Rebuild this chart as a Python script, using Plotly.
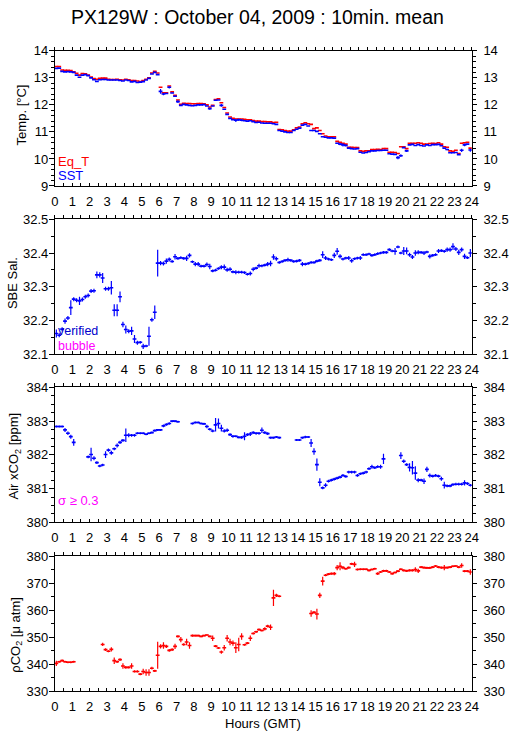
import plotly.graph_objects as go

# 10-minute bins over one day (hours GMT)
N_BINS = 144
HOUR_TICKS = list(range(0, 25))

EQ_T = [
    13.42, 13.42, 13.29, 13.28, 13.28, 13.27,
    13.22, 13.17, 13.10, 13.16, 13.15, 13.10,
    13.03, 12.97, 12.95, 12.98, 12.99, 12.99,
    12.95, 12.94, 12.94, 12.95, 12.93, 12.92,
    12.95, 12.93, 12.90, 12.90, 12.88, 12.86,
    12.90, 12.95, 13.00, 13.18, 13.24, 13.18,
    12.65, 12.45, 12.45, 12.70, 12.48, 12.35,
    12.18, 12.02, 12.06, 12.05, 12.05, 12.04,
    12.04, 12.05, 12.05, 12.04, 12.00, 11.92,
    11.98, 12.20, 12.22, 12.08, 11.90, 11.70,
    11.55, 11.50, 11.48, 11.48, 11.48, 11.47,
    11.45, 11.45, 11.42, 11.40, 11.40, 11.38,
    11.38, 11.37, 11.37, 11.35, 11.36, 11.09,
    11.08, 11.05, 11.03, 11.03, 11.08, 11.15,
    11.18, 11.30, 11.34, 11.30, 11.28, 11.12,
    11.15, 11.05, 10.93, 10.85, 10.82, 10.82,
    10.82, 10.65, 10.62, 10.58, 10.55, 10.43,
    10.43, 10.42, 10.42, 10.30, 10.28, 10.30,
    10.30, 10.35, 10.35, 10.36, 10.35, 10.38,
    10.38, 10.25, 10.25, 10.24, 10.20, 10.45,
    10.45, 10.38, 10.58, 10.58, 10.58, 10.60,
    10.58, 10.55, 10.55, 10.57, 10.58, 10.57,
    10.60, 10.55, 10.45, 10.43, 10.30, 10.28,
    10.32, 10.20, 10.58, 10.60, 10.62, 10.40,
]

SST = [
    13.35, 13.36, 13.24, 13.22, 13.23, 13.22,
    13.20, 13.10, 13.02, 13.10, 13.12, 13.08,
    13.00, 12.93, 12.87, 12.93, 12.94, 12.94,
    12.92, 12.92, 12.92, 12.92, 12.90, 12.88,
    12.92, 12.90, 12.85, 12.87, 12.83, 12.84,
    12.86, 12.92, 12.98, 13.14, 13.20, 13.12,
    12.50, 12.40, 12.42, 12.65, 12.44, 12.32,
    12.12, 11.98, 12.02, 12.00, 11.98, 11.97,
    11.98, 12.00, 12.00, 12.01, 11.96, 11.86,
    11.96, 12.17, 12.18, 11.98, 11.84, 11.65,
    11.50, 11.45, 11.43, 11.45, 11.43, 11.41,
    11.40, 11.41, 11.38, 11.35, 11.36, 11.33,
    11.32, 11.32, 11.32, 11.30, 11.28, 11.05,
    11.03, 11.00, 10.98, 10.98, 11.05, 11.10,
    11.14, 11.25, 11.28, 11.22, 11.05, 11.05,
    11.02, 10.93, 10.82, 10.80, 10.78, 10.78,
    10.77, 10.58, 10.55, 10.52, 10.50, 10.40,
    10.38, 10.37, 10.38, 10.25, 10.22, 10.24,
    10.27, 10.30, 10.30, 10.31, 10.31, 10.32,
    10.32, 10.19, 10.18, 10.17, 10.05, 10.12,
    10.42, 10.30, 10.52, 10.54, 10.50, 10.53,
    10.50, 10.48, 10.52, 10.50, 10.53, 10.53,
    10.54, 10.49, 10.40, 10.35, 10.23, 10.23,
    10.24, 10.16, 10.32, 10.52, 10.55, 10.33,
]

# std dev of SST where a visible bar is drawn (bin index -> sigma)
SST_SIGMA = {36: 0.09, 37: 0.04, 39: 0.04, 41: 0.03, 42: 0.05, 53: 0.04,
             57: 0.05, 62: 0.06, 63: 0.05, 64: 0.04, 98: 0.04, 99: 0.06,
             100: 0.04, 118: 0.06, 119: 0.05, 121: 0.04, 135: 0.03,
             140: 0.06, 141: 0.05, 143: 0.06}

SAL = [
    32.161, 32.156, 32.174, 32.198, 32.207, 32.238,
    32.263, 32.260, 32.258, 32.262, 32.270, 32.274,
    32.287, 32.288, 32.335, 32.335, 32.326, 32.294,
    32.294, 32.297, 32.230, 32.230, 32.270, 32.188,
    32.173, 32.168, 32.169, 32.145, 32.134, 32.135,
    32.123, 32.124, 32.153, 32.202, 32.224, 32.370,
    32.370, 32.369, 32.376, 32.381, 32.375, 32.389,
    32.384, 32.386, 32.384, 32.384, 32.393, 32.374,
    32.367, 32.367, 32.361, 32.361, 32.366, 32.360,
    32.347, 32.349, 32.354, 32.358, 32.358, 32.350,
    32.352, 32.344, 32.343, 32.343, 32.343, 32.342,
    32.337, 32.339, 32.352, 32.355, 32.362, 32.362,
    32.364, 32.367, 32.369, 32.388, 32.383, 32.372,
    32.375, 32.378, 32.380, 32.378, 32.375, 32.376,
    32.378, 32.367, 32.367, 32.369, 32.372, 32.372,
    32.376, 32.378, 32.395, 32.385, 32.382, 32.380,
    32.393, 32.405, 32.390, 32.382, 32.385, 32.385,
    32.377, 32.383, 32.385, 32.385, 32.395, 32.395,
    32.397, 32.393, 32.395, 32.398, 32.400, 32.402,
    32.402, 32.410, 32.406, 32.405, 32.418, 32.400,
    32.406, 32.406, 32.395, 32.388, 32.400, 32.402,
    32.402, 32.400, 32.403, 32.390, 32.393, 32.395,
    32.406, 32.407, 32.405, 32.410, 32.410, 32.419,
    32.412, 32.402, 32.410, 32.390, 32.386, 32.400,
]

SAL_SIGMA = [
    .012, .006, .006, .008, .006, .022,
    .006, .006, .012, .006, .006, .006,
    .006, .006, .010, .008, .015, .006,
    .006, .020, .018, .018, .016, .008,
    .012, .006, .012, .012, .006, .004,
    .008, .004, .028, .006, .020, .040,
    .006, .006, .008, .006, .004, .008,
    .004, .004, .004, .008, .006, .004,
    .006, .006, .004, .004, .006, .008,
    .004, .004, .004, .006, .008, .006,
    .006, .004, .006, .004, .004, .004,
    .004, .006, .006, .004, .006, .004,
    .004, .006, .008, .008, .006, .004,
    .004, .004, .006, .004, .004, .004,
    .004, .006, .004, .004, .004, .004,
    .004, .004, .010, .006, .004, .004,
    .008, .010, .006, .004, .004, .006,
    .006, .004, .004, .006, .004, .004,
    .004, .004, .004, .004, .004, .004,
    .004, .004, .004, .010, .004, .004,
    .012, .010, .006, .006, .008, .006,
    .004, .006, .004, .006, .004, .004,
    .006, .004, .004, .006, .006, .010,
    .006, .008, .006, .008, .004, .012,
]

AIR_XCO2 = [
    382.84, 382.84, 382.84, 382.74, 382.64, 382.54,
    382.37, None, None, None, None, 381.94,
    382.01, 381.90, 381.77, 381.67, 381.70, 382.01,
    382.14, 382.06, 382.18, 382.28, 382.37, 382.43,
    382.58, 382.58, 382.58, 382.58, 382.64, 382.64,
    382.64, 382.61, 382.64, 382.66, 382.72, 382.74,
    382.74, 382.86, 382.90, 382.93, 383.00, 383.00,
    382.98, None, None, None, None, 382.93,
    382.96, 382.96, 382.93, 382.92, 382.84, 382.76,
    382.71, 382.89, 382.93, 382.79, 382.71, 382.73,
    382.60, 382.55, 382.55, 382.52, 382.52, 382.55,
    382.60, 382.62, 382.66, 382.64, 382.64, 382.73,
    382.66, 382.63, 382.51, 382.51, 382.53, 382.51,
    None, None, None, None, None, 382.44,
    382.44, 382.51, 382.53, 382.53, 382.35, 382.10,
    381.71, 381.19, 381.02, 381.10, 381.22, 381.25,
    381.28, 381.31, 381.34, 381.39, 381.36, 381.49,
    381.49, 381.49, 381.39, 381.44, 381.46, 381.49,
    381.59, 381.65, 381.62, 381.65, 381.65, 381.88,
    None, None, None, None, None, 381.98,
    381.81, 381.71, 381.63, 381.62, 381.46, 381.25,
    381.25, 381.22, 381.57, 381.39, 381.37, 381.39,
    381.37, 381.29, 381.10, 381.08, 381.08, 381.12,
    381.13, 381.13, 381.13, 381.17, 381.15, 381.10,
]

AIR_SIGMA = [
    .03, .03, .03, .06, .05, .06,
    .10, 0, 0, 0, 0, .04,
    .20, .06, .04, .04, .04, .10,
    .05, .06, .04, .06, .05, .04,
    .20, .06, .04, .04, .03, .03,
    .03, .03, .03, .03, .03, .03,
    .03, .04, .04, .04, .03, .03,
    .03, 0, 0, 0, 0, .03,
    .03, .03, .03, .03, .05, .04,
    .04, .20, .15, .10, .05, .05,
    .04, .04, .03, .03, .04, .12,
    .04, .06, .04, .04, .04, .08,
    .04, .04, .03, .03, .03, .03,
    0, 0, 0, 0, 0, .03,
    .03, .03, .04, .03, .12, .10,
    .18, .12, .04, .06, .04, .04,
    .04, .04, .04, .04, .04, .04,
    .04, .04, .04, .04, .04, .04,
    .04, .06, .04, .04, .06, .15,
    0, 0, 0, 0, 0, .10,
    .05, .04, .12, .20, .20, .06,
    .04, .08, .08, .06, .04, .04,
    .04, .06, .10, .04, .04, .04,
    .04, .04, .04, .08, .04, .04,
]

PCO2 = [
    340.3, 340.9, 341.3, 340.9, 340.7, 340.7,
    340.9, None, None, None, None, None,
    None, None, None, None, 347.3, 345.4,
    344.8, 345.5, 341.3, 340.9, 341.7, 339.3,
    338.8, 338.8, 339.3, 337.3, 337.3, 336.3,
    337.3, 336.9, 336.9, 338.5, 337.5, 343.3,
    346.6, 346.9, 346.6, 345.1, 345.4, 346.6,
    350.3, 349.1, 347.3, 348.2, 346.9, 350.6,
    350.6, 350.6, 350.3, 350.6, 350.8, 350.3,
    349.6, 346.7, 346.0, 344.5, 346.1, 349.6,
    348.2, 347.8, 346.1, 347.3, 350.3, 347.2,
    347.8, 349.6, 351.4, 352.0, 352.8, 352.5,
    353.1, 354.1, 353.7, 364.6, 365.5, 365.2,
    None, None, None, None, None, None,
    None, None, None, None, 358.8, 359.2,
    358.6, 365.5, 370.8, 373.0, 373.4, 373.6,
    373.6, 375.8, 376.3, 375.8, 375.4, 375.8,
    377.2, 377.0, 375.1, 375.2, 375.2, 375.2,
    374.8, 375.1, 375.4, 373.6, 374.2, 374.6,
    374.6, 374.2, 373.6, 374.0, 374.5, 375.2,
    374.8, 374.6, 374.8, 374.8, 375.1, 374.6,
    376.0, 375.8, 375.7, 375.7, 376.0, 376.4,
    376.0, 375.8, 375.8, 375.8, 376.0, 376.3,
    376.4, 376.0, 376.6, 374.5, 374.5, 374.2,
]

PCO2_SIGMA = [
    1.0, .4, .4, .4, .4, .4,
    .4, 0, 0, 0, 0, 0,
    0, 0, 0, 0, .6, .5,
    .4, .8, 1.2, .5, .5, 1.0,
    .5, .4, 1.0, .4, .4, .4,
    1.0, 1.2, 1.2, .5, .4, 5.0,
    .8, 1.2, .6, .5, .5, 1.0,
    .4, 1.0, .5, 1.2, 1.2, .4,
    .3, .3, .3, .3, .3, .3,
    1.0, .4, .4, .6, 1.0, 1.2,
    1.2, 1.0, 2.0, 2.5, 1.2, .4,
    .4, 1.0, .4, .4, .4, .4,
    .6, .5, 1.0, 3.0, .6, .4,
    0, 0, 0, 0, 0, 0,
    0, 0, 0, 0, 1.2, .5,
    2.0, 1.0, 1.6, .4, .4, .4,
    .6, 1.0, 1.5, .6, .4, .4,
    .4, 1.0, .4, .4, .4, .4,
    .4, .4, .4, .5, .4, .4,
    .4, .4, .4, .4, .4, .4,
    .4, .4, .4, .4, .8, .8,
    .4, .4, .4, .4, .4, .4,
    .4, .4, 1.0, .4, .4, .4,
    .4, .4, .8, .4, .4, 1.0,
]

FONT = "Liberation Sans, Arial, Helvetica, sans-serif"
RED, BLUE, MAGENTA = "#ff0000", "#0000ff", "#ff00ff"

# bin centres in hours
t = [(i + 0.5) / 6 for i in range(N_BINS)]
HALF_WIDTH = 0.11  # horizontal half-length of each mean's bar, hours

W, H = 515, 739
X0, X1 = 52 / W, 478 / W
# panel pixel rows (top, bottom) -> paper domains
PANELS = [(44.7, 182.7), (216.7, 354.3), (388.3, 526.0), (560.7, 698.3)]
DOMAINS = [[1 - b / H, 1 - a / H] for a, b in PANELS]

RANGES = [[9, 14], [32.1, 32.5], [380, 384], [330, 380]]
DTICKS = [1, 0.1, 1, 10]
MINOR = [0.2, 0.05, 0.25, 5]


def marks(y, sigma, color, k):
    return go.Scatter(
        x=t, y=y, mode="markers", marker=dict(size=0.1, color=color),
        error_x=dict(type="constant", value=HALF_WIDTH, width=0, thickness=1.6, color=color),
        error_y=dict(type="data", array=sigma, width=0, thickness=1.2, color=color),
        xaxis="x" if k == 0 else f"x{k + 1}",
        yaxis="y" if k == 0 else f"y{k + 1}",
        showlegend=False, hoverinfo="x+y",
    )


fig = go.Figure()
sst_sig = [SST_SIGMA.get(i, 0) for i in range(N_BINS)]
fig.add_trace(marks(EQ_T, [0] * N_BINS, RED, 0))
fig.add_trace(marks(SST, sst_sig, BLUE, 0))
fig.add_trace(marks(SAL, SAL_SIGMA, BLUE, 1))
fig.add_trace(marks(AIR_XCO2, AIR_SIGMA, BLUE, 2))
fig.add_trace(marks(PCO2, PCO2_SIGMA, RED, 3))

tickfont = dict(family=FONT, size=13, color="black")
layout = dict(
    width=W, height=H, margin=dict(l=0, r=0, t=0, b=0),
    paper_bgcolor="white", plot_bgcolor="white", showlegend=False,
    font=dict(family=FONT, size=13, color="black"),
)

for k in range(4):
    sx = "" if k == 0 else str(k + 1)
    ox, oy = str(k + 5), str(k + 5)
    common_x = dict(range=[0, 24], domain=[X0, X1], showgrid=False, zeroline=False,
                    showline=True, linecolor="black", linewidth=1,
                    tickmode="array", tickvals=HOUR_TICKS, ticklen=3, tickcolor="black")
    layout["xaxis" + sx] = dict(common_x, anchor="y" + sx, side="bottom", ticks="inside",
                               minor=dict(dtick=0.5, ticklen=3, tickcolor="black", ticks="inside"),
                               ticktext=[str(h) for h in HOUR_TICKS], tickfont=tickfont,
                               ticklabelstandoff=3)
    layout["xaxis" + ox] = dict(common_x, anchor="y" + oy, overlaying="x" + sx, side="top",
                               ticks="outside", showticklabels=False,
                               minor=dict(dtick=0.5, ticklen=3, tickcolor="black", ticks="outside"))
    common_y = dict(range=RANGES[k], domain=DOMAINS[k], dtick=DTICKS[k], showgrid=False,
                    zeroline=False, showline=True, linecolor="black", linewidth=1,
                    ticks="outside", ticklen=5, tickcolor="black", tickfont=tickfont,
                    minor=dict(dtick=MINOR[k], ticklen=3, tickcolor="black", ticks="outside"))
    layout["yaxis" + sx] = dict(common_y, anchor="x" + sx, side="left", ticklabelstandoff=-2)
    layout["yaxis" + oy] = dict(common_y, anchor="x" + ox, overlaying="y" + sx, side="right",
                               ticklen=4, ticklabelstandoff=4)
    fig.add_trace(go.Scatter(x=[], y=[], xaxis="x" + ox, yaxis="y" + oy,
                             showlegend=False, hoverinfo="skip"))

fig.update_layout(**layout)


def label(text, x_px, y_px, color="black", size=13, angle=0, xanchor="left"):
    fig.add_annotation(text=text, x=x_px / W, y=1 - y_px / H, xref="paper", yref="paper",
                       showarrow=False, textangle=angle, xanchor=xanchor, yanchor="middle",
                       font=dict(family=FONT, size=size, color=color))


label("PX129W : October 04, 2009 : 10min. mean", 259, 10, size=19.5, xanchor="center")
label("Temp. [°C]", 18, 110, angle=-90, xanchor="center")
label("SBE Sal.", 8, 282, angle=-90, xanchor="center")
label("Air xCO<sub>2</sub> [ppm]", 11, 458, angle=-90, xanchor="center")
label("ρCO<sub>2</sub> [μ atm]", 13, 641, angle=-90, xanchor="center")
label("Hours (GMT)", 265, 731, xanchor="center")

label("Eq_T", 53, 158, color=RED)
label("SST", 53, 172, color=BLUE)
label("verified", 53, 331, color="#0000cc", size=12.5)
label("bubble", 53, 346, color=MAGENTA, size=12.5)
label("σ ≥ 0.3", 53, 504, color=MAGENTA)

# the page body has a default 8px margin; drop it so the figure fills the window
fig.write_html("out.html", config={"displayModeBar": False},
               post_script="document.body.style.margin='0';")
